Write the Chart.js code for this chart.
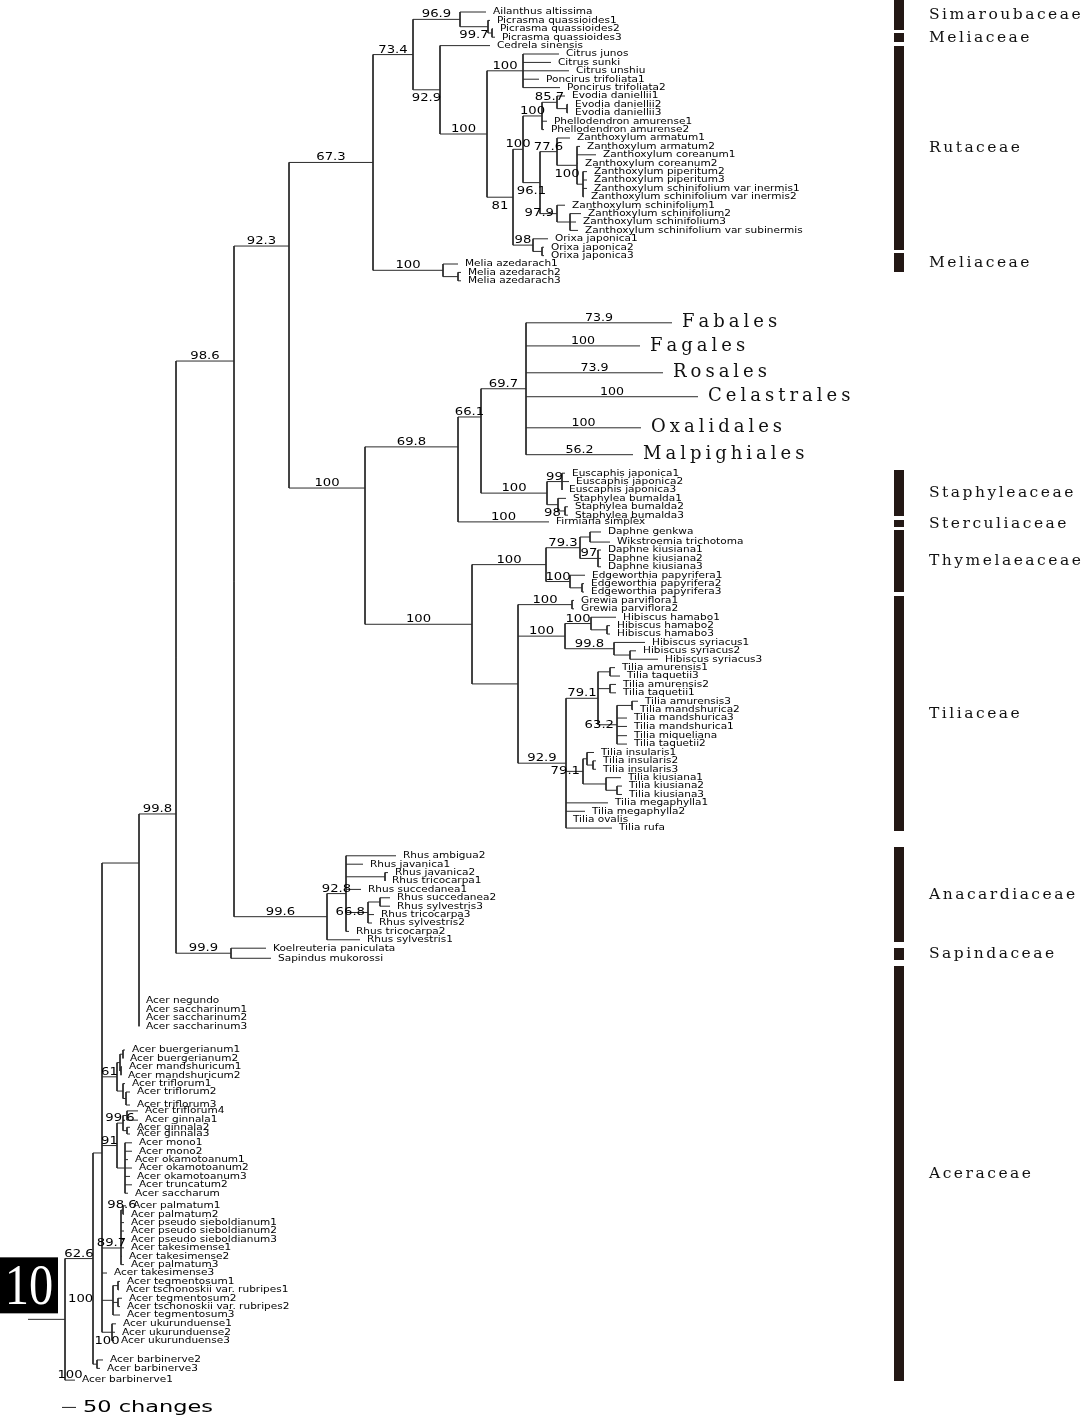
<!DOCTYPE html>
<html>
<head>
<meta charset="utf-8">
<script src="https://cdn.jsdelivr.net/npm/chart.js@4.4.1/dist/chart.umd.min.js"></script>
<style>
  html, body { margin: 0; padding: 0; background: #fff; }
  #wrap { width: 1085px; height: 1417px; position: relative; }
</style>
</head>
<body>
<div id="wrap"><canvas id="tree"></canvas></div>
<script>
// Tree topology in Newick; branch lengths in scale-bar units (14 = 50 changes),
// internal node names are bootstrap values
const treeNewick = `
((((((((((Ailanthus_altissima:26,(Picrasma_quassioides1:2,(Picrasma_quassioides2:1,Picrasma_quassioides3:3):4)99.7:28)96.9:47,
(Cedrela_sinensis:50,((Citrus_junos:36,Citrus_sunki:28,Citrus_unshiu:46,Poncirus_trifoliata1:16,Poncirus_trifoliata2:37)100:36,
((((Evodia_daniellii1:8,(Evodia_daniellii2:1,Evodia_daniellii3:1):10)85.7:15,Phellodendron_amurense1:5,Phellodendron_amurense2:2)100:19,
((Zanthoxylum_armatum1:13,(Zanthoxylum_armatum2:3,Zanthoxylum_coreanum1:19,Zanthoxylum_coreanum2:1,(Zanthoxylum_piperitum2:4,Zanthoxylum_piperitum3:4,Zanthoxylum_schinifolium_var_inermis1:4,Zanthoxylum_schinifolium_var_inermis2:1):6)100:20)77.6:17,
(Zanthoxylum_schinifolium1:8,(Zanthoxylum_schinifolium2:11,Zanthoxylum_schinifolium3:6,Zanthoxylum_schinifolium_var_subinermis:8):13)97.9:17)96.1:17)100:10,
(Orixa_japonica1:15,(Orixa_japonica2:2,Orixa_japonica3:2):9)98:20)81:26)100:47)92.9:27)73.4:40,
(Melia_azedarach1:15,(Melia_azedarach2:3,Melia_azedarach3:3):15)100:70)67.3:84,
((((Fabales:146,Fagales:114,Rosales:137,Celastrales:172,Oxalidales:115,Malpighiales:107)69.7:45,
((Euscaphis_japonica1:3,Euscaphis_japonica2:7,Euscaphis_japonica3:0)99:15,(Staphylea_bumalda1:8,(Staphylea_bumalda2:3,Staphylea_bumalda3:3):7)98:11)100:66)66.1:23,
Firmiana_simplex:91)69.8:93,
((((Daphne_genkwa:11,Wikstroemia_trichotoma:20):10,(Daphne_kiusiana1:3,Daphne_kiusiana2:3,Daphne_kiusiana3:3)97:18)79.3:34,
(Edgeworthia_papyrifera1:15,(Edgeworthia_papyrifera2:2,Edgeworthia_papyrifera3:2):12)100:24)100:74,
((Grewia_parviflora1:2,Grewia_parviflora2:2)100:54,
((Hibiscus_hamabo1:25,(Hibiscus_hamabo2:3,Hibiscus_hamabo3:3):16)100:26,(Hibiscus_syriacus1:31,(Hibiscus_syriacus2:6,Hibiscus_syriacus3:28):16)99.8:49)100:47,
(((Tilia_amurensis1:5,Tilia_taquetii3:10):12,(Tilia_amurensis2:6,Tilia_taquetii1:6):12,((Tilia_amurensis3:6,Tilia_mandshurica2:1):15,Tilia_mandshurica3:10,Tilia_mandshurica1:10,Tilia_miqueliana:10,Tilia_taquetii2:10)63.2:19)79.1:32,
((Tilia_insularis1:7,(Tilia_insularis2:3,Tilia_insularis3:3):6):4,(Tilia_kiusiana1:15,(Tilia_kiusiana2:5,Tilia_kiusiana3:5):11):23)79.1:17,
Tilia_megaphylla1:42,Tilia_megaphylla2:19,Tilia_ovalis:0,Tilia_rufa:46)92.9:48):46)100:107)100:76)92.3:55,
((Rhus_ambigua2:50,Rhus_javanica1:17,(Rhus_javanica2:3,Rhus_tricocarpa1:0):39,Rhus_succedanea1:15,((Rhus_succedanea2:10,Rhus_sylvestris3:10):12,Rhus_tricocarpa3:6,Rhus_sylvestris2:4)66.8:22,Rhus_tricocarpa2:3)92.8:19,Rhus_sylvestris1:33)99.6:93)98.6:58,
(Koelreuteria_paniculata:35,Sapindus_mukorossi:40)99.9:55)99.8:37,
Acer_negundo:0,Acer_saccharinum1:0,Acer_saccharinum2:0,Acer_saccharinum3:0):37,
(((Acer_buergerianum1:2,Acer_buergerianum2:0):3,(Acer_mandshuricum1:1,Acer_mandshuricum2:0):1):3,(Acer_triflorum1:2,(Acer_triflorum2:4,Acer_triflorum3:4):3):6)61:15,
(((Acer_triflorum4:11,Acer_ginnala1:11):4,(Acer_ginnala2:3,Acer_ginnala3:3):4)99.6:6,(Acer_mono1:7,Acer_mono2:7,Acer_okamotoanum1:3,Acer_okamotoanum2:7,Acer_okamotoanum3:5,Acer_truncatum2:7,Acer_saccharum:3):8)91:15,
((Acer_palmatum1:3,Acer_palmatum2:1)98.6:2,Acer_pseudo_sieboldianum1:3,Acer_pseudo_sieboldianum2:3,Acer_pseudo_sieboldianum3:3,Acer_takesimense1:3,Acer_takesimense2:1,Acer_palmatum3:3)89.7:19,
Acer_takesimense3:5,
((Acer_tegmentosum1:2,Acer_tschonoskii_var._rubripes1:1):5,(Acer_tegmentosum2:4,Acer_tschonoskii_var._rubripes2:2):5,Acer_tegmentosum3:7):11,
(Acer_ukurunduense1:4,Acer_ukurunduense2:3,Acer_ukurunduense3:2)100:10):9,
(Acer_barbinerve2:6,Acer_barbinerve3:3):4)62.6:28,
Acer_barbinerve1:10)100:37;
`;

// extra vertical space (in rows) before a tip; every other tip advances one row
const leafGap = {
  'Ailanthus altissima': 1.43,
  'Fabales': 5.0, 'Fagales': 2.75, 'Rosales': 3.2, 'Celastrales': 2.85, 'Oxalidales': 3.7, 'Malpighiales': 3.2,
  'Euscaphis japonica1': 2.2, 'Firmiana simplex': 0.8,
  'Daphne genkwa': 1.2, 'Wikstroemia trichotoma': 1.2, 'Daphne kiusiana1': 0.95,
  'Tilia miqueliana': 1.1,
  'Rhus ambigua2': 3.3, 'Sapindus mukorossi': 1.2,
  'Acer negundo': 5.1, 'Acer buergerianum1': 2.82, 'Acer triflorum3': 1.55, 'Acer triflorum4': 0.7,
  'Acer ginnala1': 1.1, 'Acer ginnala2': 0.85, 'Acer ginnala3': 0.8, 'Acer mono1': 1.05,
  'Acer palmatum1': 1.5, 'Acer ukurunduense1': 1.05, 'Acer barbinerve2': 2.3, 'Acer barbinerve1': 1.4
};

const nodeRow = {
  'Ailanthus altissima..Acer ukurunduense3': 137.26,
  'Ailanthus altissima..Acer saccharinum3': 102.74,
  'Ailanthus altissima..Sapindus mukorossi': 96.9,
  'Ailanthus altissima..Rhus sylvestris1': 42.98,
  'Ailanthus altissima..Tilia rufa': 29.29,
  'Fabales..Tilia rufa': 58.1,
  'Fabales..Firmiana simplex': 53.2,
  'Fabales..Staphylea bumalda3': 49.64,
  'Acer palmatum1..Acer palmatum3': 148.57
};

// collapsed orders and their support
const orders = ['Fabales', 'Fagales', 'Rosales', 'Celastrales', 'Oxalidales', 'Malpighiales'];
const orderSupport = ['73.9', '100', '73.9', '100', '100', '56.2'];
const tipSupport = { 'Firmiana simplex': '100', 'Acer barbinerve1': '100' };

// family bars on the right (rows)
const families = ['Simaroubaceae', 'Meliaceae', 'Rutaceae', 'Meliaceae', 'Staphyleaceae', 'Sterculiaceae',
  'Thymelaeaceae', 'Tiliaceae', 'Anacardiaceae', 'Sapindaceae', 'Aceraceae'];
const familyTop = [0, 3.93, 5.48, 30.12, 55.95, 61.9, 63.1, 70.95, 100.83, 112.86, 115.0];
const familyBottom = [3.57, 5.0, 29.76, 32.38, 61.43, 62.74, 70.48, 98.93, 112.14, 114.29, 164.4];

const scaleBarLength = 14;
const scaleBarLabel = '50 changes';
const panelTag = '10';

// label placement exceptions (style)
const labelPos = {
  'Picrasma quassioides1..Picrasma quassioides3': 'below',
  'Cedrela sinensis..Orixa japonica3': 'below',
  'Evodia daniellii1..Orixa japonica3': 'below',
  'Zanthoxylum armatum1..Zanthoxylum schinifolium var subinermis': 'below',
  'Zanthoxylum armatum2..Zanthoxylum schinifolium var inermis2': 'below',
  'Staphylea bumalda1..Staphylea bumalda3': 'below',
  'Acer ukurunduense1..Acer ukurunduense3': 'below',
  'Zanthoxylum schinifolium1..Zanthoxylum schinifolium var subinermis': 'left',
  'Tilia amurensis3..Tilia taquetii2': 'left',
  'Tilia insularis1..Tilia kiusiana3': 'left',
  'Rhus succedanea2..Rhus sylvestris2': 'left',
  'Ailanthus altissima..Acer barbinerve1': 'right'
};

const ROW_PX = 8.4;
const BAR_X = 834;       // family bar column, in x units
const SCALE_AT = { x: -3, y: 167.55 };

// Parse Newick
function parseNewick(str) {
  const s = str.replace(/\s+/g, '');
  let i = 0;
  function node() {
    const n = { children: [] };
    if (s[i] === '(') {
      i++;
      n.children.push(node());
      while (s[i] === ',') { i++; n.children.push(node()); }
      i++;
    }
    let name = '';
    while (i < s.length && !',():;'.includes(s[i])) name += s[i++];
    n.name = name.replace(/_/g, ' ');
    n.len = 0;
    if (s[i] === ':') {
      i++;
      let len = '';
      while (i < s.length && !',();'.includes(s[i])) len += s[i++];
      n.len = parseFloat(len);
    }
    return n;
  }
  return node();
}

const tree = parseNewick(treeNewick);
const leaves = [];
const nodes = [];
let row = 0;

function layout(n, x0) {
  n.x0 = x0;
  n.x = x0 + n.len;
  nodes.push(n);
  if (!n.children.length) {
    row += (n.name in leafGap) ? leafGap[n.name] : 1;
    n.y = row;
    n.first = n.last = n.name;
    leaves.push(n);
    return;
  }
  n.children.forEach(c => layout(c, n.x));
  const kids = n.children;
  n.first = kids[0].first;
  n.last = kids[kids.length - 1].last;
  n.key = n.first + '..' + n.last;
  n.y = (n.key in nodeRow) ? nodeRow[n.key] : (kids[0].y + kids[kids.length - 1].y) / 2;
}
layout(tree, -tree.len);

// Line segments for branches
const branchPts = [];
function seg(x1, y1, x2, y2) {
  branchPts.push({ x: x1, y: y1 }, { x: x2, y: y2 }, { x: NaN, y: NaN });
}
nodes.forEach(n => {
  if (n.len > 0) seg(n.x0, n.y, n.x, n.y);
  if (n.children.length) {
    const ys = n.children.map(c => c.y).concat([n.y]);
    seg(n.x, Math.min(...ys), n.x, Math.max(...ys));
  }
});

const barPts = [];
families.forEach((f, i) => {
  barPts.push({ x: BAR_X, y: familyTop[i] }, { x: BAR_X, y: familyBottom[i] }, { x: NaN, y: NaN });
});

// Text helpers
function stretchText(ctx, text, x, y, font, sx, align, baseline, color) {
  ctx.save();
  ctx.font = font;
  ctx.fillStyle = color || '#000';
  ctx.textAlign = align;
  ctx.textBaseline = baseline;
  ctx.translate(x, y);
  ctx.scale(sx, 1);
  ctx.fillText(text, 0, 0);
  ctx.restore();
}

function spacedText(ctx, text, x, y, font, spacing, color) {
  ctx.save();
  ctx.font = font;
  ctx.fillStyle = color || '#000';
  ctx.textAlign = 'left';
  ctx.textBaseline = 'middle';
  let cx = x;
  for (const ch of text) {
    ctx.fillText(ch, cx, y);
    cx += ctx.measureText(ch).width + spacing;
  }
  ctx.restore();
}

const labelPlugin = {
  id: 'treeLabels',
  afterDatasetsDraw(chart) {
    const ctx = chart.ctx;
    const xs = chart.scales.x, ys = chart.scales.y;
    const SUP = '11px "DejaVu Sans"';

    // tip labels
    leaves.forEach(n => {
      const px = xs.getPixelForValue(n.x), py = ys.getPixelForValue(n.y);
      if (orders.includes(n.name)) {
        spacedText(ctx, n.name, px + 10, py, '18px "DejaVu Serif"', 4, '#111');
      } else {
        stretchText(ctx, n.name, px + 7, py, '9px "DejaVu Sans"', 1.17, 'left', 'middle', '#000');
      }
    });

    // support values
    nodes.forEach(n => {
      let text = null, font = SUP;
      if (n.children.length) {
        if (n.name) text = n.name;
      } else if (orders.includes(n.name)) {
        text = orderSupport[orders.indexOf(n.name)];
        font = '10.5px "DejaVu Sans"';
      } else if (tipSupport[n.name]) {
        text = tipSupport[n.name];
      }
      if (!text) return;
      const p1 = xs.getPixelForValue(n.x0), p2 = xs.getPixelForValue(n.x), py = ys.getPixelForValue(n.y);
      const pos = (n.key && labelPos[n.key]) || 'above';
      if (pos === 'above') stretchText(ctx, text, (p1 + p2) / 2, py - 2, font, 1.2, 'center', 'alphabetic');
      else if (pos === 'below') stretchText(ctx, text, (p1 + p2) / 2, py + 3, font, 1.2, 'center', 'top');
      else if (pos === 'left') stretchText(ctx, text, p2 - 3, py, font, 1.2, 'right', 'middle');
      else stretchText(ctx, text, p2 + 3, py - 20, font, 1.2, 'left', 'middle');
    });

    // family names
    families.forEach((f, i) => {
      const py = ys.getPixelForValue((familyTop[i] + familyBottom[i]) / 2);
      spacedText(ctx, f, xs.getPixelForValue(BAR_X) + 30, py, '15.5px "DejaVu Serif"', 2.5, '#111');
    });

    // scale bar
    const sx1 = xs.getPixelForValue(SCALE_AT.x), sx2 = xs.getPixelForValue(SCALE_AT.x + scaleBarLength);
    const sy = ys.getPixelForValue(SCALE_AT.y);
    ctx.save();
    ctx.strokeStyle = '#222';
    ctx.lineWidth = 1;
    ctx.beginPath();
    ctx.moveTo(sx1, sy);
    ctx.lineTo(sx2, sy);
    ctx.stroke();
    ctx.restore();
    stretchText(ctx, scaleBarLabel, sx2 + 7, sy, '16.5px "DejaVu Sans"', 1.36, 'left', 'middle', '#000');

    // panel tag box
    const ry = ys.getPixelForValue(tree.y);
    ctx.save();
    ctx.fillStyle = '#000';
    ctx.fillRect(0, ry - 62, 58, 56);
    ctx.restore();
    stretchText(ctx, panelTag, 29, ry - 15, '57px "Liberation Serif"', 0.85, 'center', 'alphabetic', '#fff');
  }
};

new Chart(document.getElementById('tree').getContext('2d'), {
  type: 'scatter',
  data: {
    datasets: [
      {
        data: branchPts,
        showLine: true,
        spanGaps: false,
        borderColor: '#2b2b2b',
        borderWidth: 1,
        pointRadius: 0,
        pointHoverRadius: 0
      },
      {
        data: barPts,
        showLine: true,
        spanGaps: false,
        borderColor: '#231815',
        borderWidth: 10,
        borderCapStyle: 'butt',
        pointRadius: 0,
        pointHoverRadius: 0
      }
    ]
  },
  options: {
    responsive: true,
    maintainAspectRatio: false,
    animation: false,
    events: [],
    layout: { padding: 0 },
    scales: {
      x: { type: 'linear', min: -65, max: 1020, display: false },
      y: { type: 'linear', min: 0, max: 1417 / ROW_PX, reverse: true, display: false }
    },
    plugins: {
      legend: { display: false },
      tooltip: { enabled: false }
    }
  },
  plugins: [labelPlugin]
});
</script>
</body>
</html>
